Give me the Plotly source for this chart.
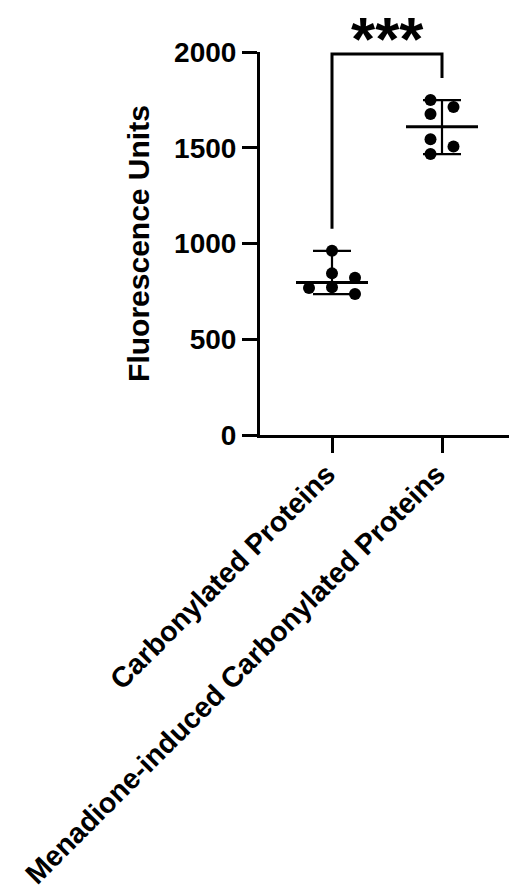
import numpy as np
import plotly.graph_objects as go

# ---- data ----
categories = ["Carbonylated Proteins", "Menadione-induced Carbonylated Proteins"]
group1_values = [962, 844, 821, 771, 768, 736]
group2_values = [1749, 1713, 1676, 1544, 1506, 1467]
y_tick_values = [0, 500, 1000, 1500, 2000]
y_tick_labels = ["0", "500", "1000", "1500", "2000"]
significance_label = "***"
y_title = "Fluorescence Units"

# ---- layout constants ----
W, H = 509, 895
M_L, M_R, M_T, M_B = 260, 0, 52, 460
plot_w = W - M_L - M_R
plot_h = H - M_T - M_B
Y_MAX = 2000
PX_PER_CAT = 110.0
X0 = -72 / PX_PER_CAT
X1 = X0 + plot_w / PX_PER_CAT
px_per_val = plot_h / Y_MAX

MARKER_D = 12          # px
SLOT_PX = 23           # horizontal spacing of beeswarm columns
MEDIAN_HALF_PX = 36
CAP_HALF_PX = 19
FONT = "Liberation Sans, Arial, sans-serif"


def beeswarm(values, d_px=MARKER_D):
    """Greedy beeswarm: column index per point (descending order, centre first)."""
    thr = d_px / px_per_val
    order = sorted(range(len(values)), key=lambda i: -values[i])
    cols = {}
    for i in order:
        for c in [0, 1, -1, 2, -2, 3, -3]:
            if all(abs(values[i] - values[j]) >= thr for j, cj in cols.items() if cj == c):
                cols[i] = c
                break
    cs = [cols[i] for i in range(len(values))]
    shift = (min(cs) + max(cs)) / 2.0
    return [(c - shift) * SLOT_PX / PX_PER_CAT for c in cs]


fig = go.Figure()
groups = [group1_values, group2_values]
for gi, vals in enumerate(groups):
    offs = beeswarm(vals)
    xs = [gi + o for o in offs]
    fig.add_trace(go.Scatter(x=xs, y=vals, mode="markers",
                             marker=dict(size=MARKER_D, color="black"),
                             showlegend=False, hoverinfo="y"))
    med = float(np.median(vals))
    lo, hi = min(vals), max(vals)
    # range bar
    fig.add_trace(go.Scatter(x=[gi], y=[med], mode="markers",
                             marker=dict(size=1, color="rgba(0,0,0,0)"),
                             error_y=dict(type="data", symmetric=False,
                                          array=[hi - med], arrayminus=[med - lo],
                                          width=CAP_HALF_PX, thickness=2.2, color="black"),
                             showlegend=False, hoverinfo="skip"))
    # median line
    hw = MEDIAN_HALF_PX / PX_PER_CAT
    fig.add_trace(go.Scatter(x=[gi - hw, gi + hw], y=[med, med], mode="lines",
                             line=dict(color="black", width=3),
                             showlegend=False, hoverinfo="skip"))

# significance bracket
GAP_VAL = 115
BRACKET_TOP = 1990
l_bot = max(group1_values) + GAP_VAL
r_bot = max(group2_values) + GAP_VAL
fig.add_shape(type="path",
              path=f"M 0 {l_bot} L 0 {BRACKET_TOP} L 1 {BRACKET_TOP} L 1 {r_bot}",
              xref="x", yref="y", line=dict(color="black", width=3))
fig.add_annotation(x=0.5, y=1 + 13 / plot_h, xref="x", yref="paper",
                   text=significance_label, showarrow=False,
                   font=dict(family=FONT, size=62, color="black", weight=700),
                   yanchor="middle")

fig.update_layout(
    width=W, height=H,
    margin=dict(l=M_L, r=M_R, t=M_T, b=M_B, autoexpand=False),
    paper_bgcolor="white", plot_bgcolor="white",
    font=dict(family=FONT, color="black"),
    xaxis=dict(range=[X0, X1], tickmode="array", tickvals=[0, 1], ticktext=categories,
               tickangle=-45, showgrid=False, zeroline=False,
               showline=True, linecolor="black", linewidth=3,
               ticks="outside", ticklen=15, tickwidth=3, tickcolor="black",
               ticklabelshift=-5, ticklabelstandoff=-7,
               tickfont=dict(family=FONT, size=28.5, color="black", weight=700)),
    yaxis=dict(range=[0, Y_MAX], tickmode="array", tickvals=y_tick_values,
               ticktext=y_tick_labels, showgrid=False, zeroline=False,
               showline=True, linecolor="black", linewidth=3,
               ticks="outside", ticklen=15, tickwidth=3, tickcolor="black",
               tickfont=dict(family=FONT, size=28, color="black", weight=700),
               title=dict(text=y_title, standoff=16,
                          font=dict(family=FONT, size=30, color="black", weight=700))),
)

fig.write_html("out.html")
